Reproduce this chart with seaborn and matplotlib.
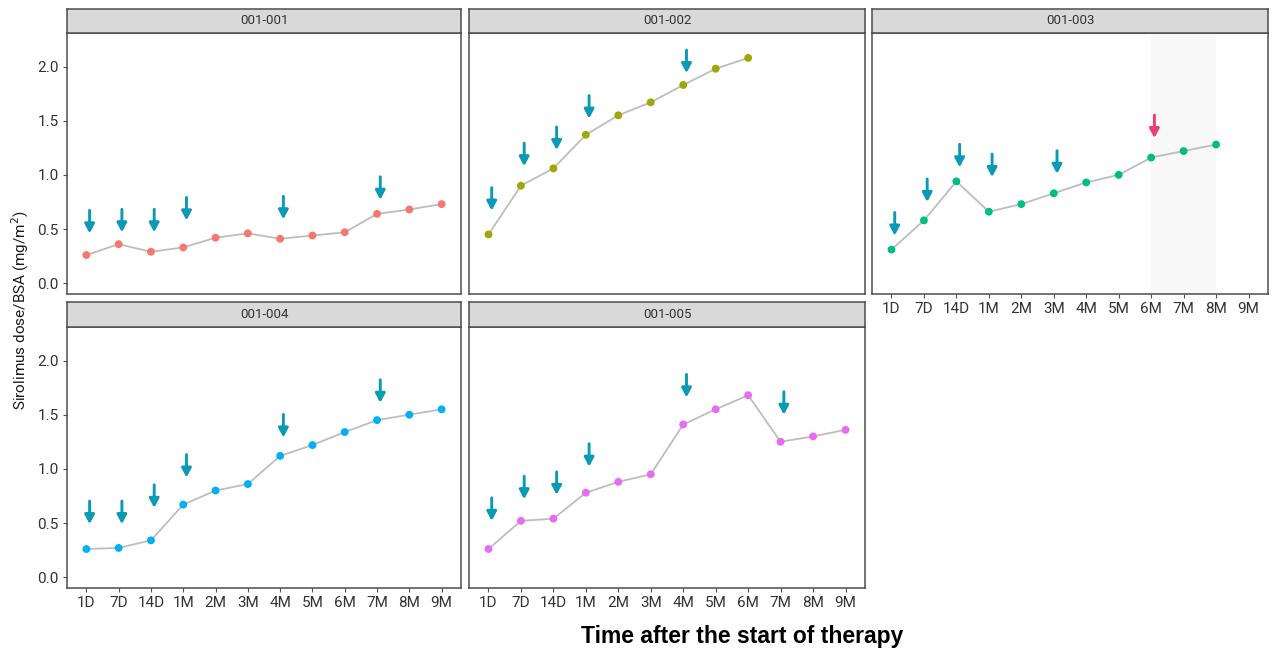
import matplotlib
matplotlib.use("Agg")
import matplotlib.pyplot as plt
import numpy as np
import pandas as pd
import seaborn as sns

sns.set_theme(style="white")
plt.rcParams['font.family'] = ['Roboto', 'DejaVu Sans']

# ---- data ----
times = ['1D', '7D', '14D', '1M', '2M', '3M', '4M', '5M', '6M', '7M', '8M', '9M']
subjects = ['001-001', '001-002', '001-003', '001-004', '001-005']

dose_001 = [0.26, 0.36, 0.29, 0.33, 0.42, 0.46, 0.41, 0.44, 0.47, 0.64, 0.68, 0.73]
dose_002 = [0.45, 0.90, 1.06, 1.37, 1.55, 1.67, 1.83, 1.98, 2.08, None, None, None]
dose_003 = [0.31, 0.58, 0.94, 0.66, 0.73, 0.83, 0.93, 1.00, 1.16, 1.22, 1.28, None]
dose_004 = [0.26, 0.27, 0.34, 0.67, 0.80, 0.86, 1.12, 1.22, 1.34, 1.45, 1.50, 1.55]
dose_005 = [0.26, 0.52, 0.54, 0.78, 0.88, 0.95, 1.41, 1.55, 1.68, 1.25, 1.30, 1.36]

# dose-change arrows: time point and value where the arrow tip sits
arrow_t_001 = ['1D', '7D', '14D', '1M', '4M', '7M']
arrow_y_001 = [0.46, 0.47, 0.47, 0.58, 0.59, 0.77]
arrow_t_002 = ['1D', '7D', '14D', '1M', '4M']
arrow_y_002 = [0.67, 1.08, 1.23, 1.52, 1.94]
arrow_t_003 = ['1D', '7D', '14D', '1M', '3M', '6M']
arrow_y_003 = [0.44, 0.75, 1.07, 0.98, 1.01, 1.34]
arrow_t_004 = ['1D', '7D', '14D', '1M', '4M', '7M']
arrow_y_004 = [0.49, 0.49, 0.64, 0.92, 1.29, 1.61]
arrow_t_005 = ['1D', '7D', '14D', '1M', '4M', '7M']
arrow_y_005 = [0.52, 0.72, 0.76, 1.02, 1.66, 1.50]

# 001-003: the 6M arrow is a different event, with a shaded window 6M-8M
special_arrow = ('001-003', '6M')
shade_window = ('001-003', '6M', '8M')

doses = [dose_001, dose_002, dose_003, dose_004, dose_005]
arrow_t = [arrow_t_001, arrow_t_002, arrow_t_003, arrow_t_004, arrow_t_005]
arrow_y = [arrow_y_001, arrow_y_002, arrow_y_003, arrow_y_004, arrow_y_005]

rows = []
for s, vals in zip(subjects, doses):
    for t, v in zip(times, vals):
        if v is not None:
            rows.append({'subject': s, 'time': t, 'pos': times.index(t), 'dose': v})
df = pd.DataFrame(rows)

hue_cols = ['#F8766D', '#A3A500', '#00BF7D', '#00B0F6', '#E76BF3']
arrow_col = '#0A9AB5'
special_col = '#E83E74'
border_col = '#4D4D4D'
text_col = '#333333'

W, H = 1274, 654
fig = plt.figure(figsize=(W / 100, H / 100), dpi=100)

col_x = [(67, 461), (469, 865), (872, 1268)]
row_y = [(9, 33, 294), (302, 327, 588)]  # strip top, plot top, plot bottom


def px_rect(x0, x1, y0, y1):
    return [x0 / W, 1 - y1 / H, (x1 - x0) / W, (y1 - y0) / H]


for i, s in enumerate(subjects):
    r, c = divmod(i, 3)
    x0, x1 = col_x[c]
    st, pt, pb = row_y[r]
    ax = fig.add_axes(px_rect(x0, x1, pt, pb))
    sub = df[df.subject == s]

    if s == shade_window[0]:
        ax.axvspan(times.index(shade_window[1]), times.index(shade_window[2]),
                   color='#F8F8F8', zorder=0, lw=0)

    sns.lineplot(data=sub, x='pos', y='dose', ax=ax, color='#BDBDBD', lw=1.3,
                 zorder=2, legend=False)
    sns.scatterplot(data=sub, x='pos', y='dose', ax=ax, color=hue_cols[i], s=32,
                    edgecolor='none', zorder=3, legend=False)

    for t, yv in zip(arrow_t[i], arrow_y[i]):
        col = special_col if (s, t) == special_arrow else arrow_col
        xp = times.index(t) + 0.1
        ax.annotate('', xy=(xp, yv), xytext=(0, 23), textcoords='offset pixels',
                    xycoords='data',
                    arrowprops=dict(arrowstyle='-|>,head_width=0.24,head_length=0.45',
                                    color=col, lw=2.1, shrinkA=0, shrinkB=0),
                    zorder=4)

    ax.set_xlim(-0.6, len(times) - 0.4)
    ax.set_ylim(-0.1, 2.31)
    ax.set_xlabel('')
    ax.set_ylabel('')
    ax.set_yticks([0, 0.5, 1.0, 1.5, 2.0])
    ax.set_xticks(range(len(times)))
    ax.grid(False)
    for sp in ax.spines.values():
        sp.set_color(border_col)
        sp.set_linewidth(1.1)
    ax.tick_params(axis='both', length=3, width=0.8, color=border_col,
                   labelsize=11, labelcolor=text_col, pad=3)
    ax.tick_params(axis='both', bottom=True, left=True)

    if c == 0:
        ax.set_yticklabels(['0.0', '0.5', '1.0', '1.5', '2.0'])
    else:
        ax.set_yticklabels([])
        ax.tick_params(axis='y', length=0)
    if i >= 2:
        ax.set_xticklabels(times)
    else:
        ax.set_xticklabels([])
        ax.tick_params(axis='x', length=0)

    sax = fig.add_axes(px_rect(x0, x1, st, pt))
    sax.set_facecolor('#D9D9D9')
    sax.set_xticks([])
    sax.set_yticks([])
    for sp in sax.spines.values():
        sp.set_color(border_col)
        sp.set_linewidth(1.1)
    sax.text(0.5, 0.5, s, ha='center', va='center', fontsize=9.5,
             color=text_col, transform=sax.transAxes)

fig.text(20 / W, 1 - 310 / H, r'Sirolimus dose/BSA (mg/m$^2$)', rotation=90,
         ha='center', va='center', fontsize=11, color='#1A1A1A')
fig.text(742 / W, 1 - 636 / H, 'Time after the start of therapy',
         ha='center', va='center', fontsize=16.5, fontweight='bold',
         family=['Liberation Sans', 'DejaVu Sans'], color='black')

fig.savefig('out.png', dpi=100, facecolor='white')
